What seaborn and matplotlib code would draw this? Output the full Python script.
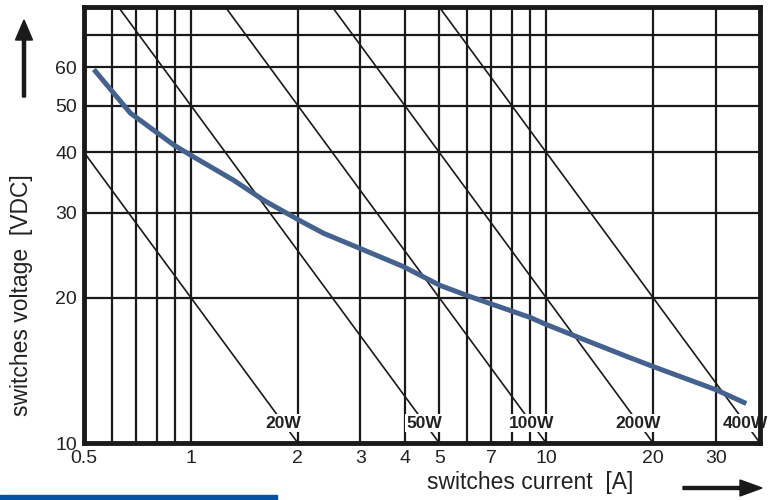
import numpy as np
import matplotlib
matplotlib.use("Agg")
import matplotlib.pyplot as plt
import seaborn as sns
import pandas as pd

sns.set_style("white")
plt.rcParams["font.family"] = ["Liberation Sans", "DejaVu Sans"]

# ---- data ----
current_a = [0.533, 0.676, 0.896, 1.02, 1.32, 1.606, 2.04, 2.36, 2.99,
             3.96, 5.03, 6.11, 9.01, 10.0, 12.2, 16.9, 20.0, 30.0, 36.6]
voltage_v = [59.4, 48.2, 41.4, 39.1, 35.0, 31.8, 28.8, 27.2, 25.3,
             23.2, 21.2, 20.1, 18.2, 17.6, 16.6, 15.1, 14.4, 12.9, 12.07]

power_lines_w = [20, 50, 100, 200, 400]
power_labels = ["20W", "50W", "100W", "200W", "400W"]

x_grid = [0.6, 0.7, 0.8, 0.9, 1, 2, 3, 4, 5, 6, 7, 8, 9, 10, 20, 30]
y_grid = [20, 30, 40, 50, 60, 70]
x_ticks = [0.5, 1, 2, 3, 4, 5, 7, 10, 20, 30]
x_tick_labels = ["0.5", "1", "2", "3", "4", "5", "7", "10", "20", "30"]
y_ticks = [10, 20, 30, 40, 50, 60]
y_tick_labels = ["10", "20", "30", "40", "50", "60"]

x_lim = (0.5, 40)
y_lim = (10, 80)

# ---- figure ----
fig = plt.figure(figsize=(7.72, 5.00), dpi=100)
ax = fig.add_axes([0.1088, 0.114, 0.8757, 0.872])
ax.set_xscale("log")
ax.set_yscale("log")
ax.set_xlim(*x_lim)
ax.set_ylim(*y_lim)

# grid
for xv in x_grid:
    ax.axvline(xv, color="#1a1a1a", lw=1.6, zorder=1)
for yv in y_grid:
    ax.axhline(yv, color="#1a1a1a", lw=1.6, zorder=1)

# constant power lines V = P / I
i_vals = np.array([0.3, 60])
for p in power_lines_w:
    ax.plot(i_vals, p / i_vals, color="#1a1a1a", lw=1.2, zorder=2)

# characteristic curve
df = pd.DataFrame({"I": current_a, "V": voltage_v})
sns.lineplot(data=df, x="I", y="V", ax=ax, color="#45628f", lw=3.6,
             solid_capstyle="butt", zorder=4, sort=False)

# power labels
lab_v = 11.0
for p, lab in zip(power_lines_w, power_labels):
    ax.text(p / lab_v, lab_v, lab, ha="center", va="center",
            fontsize=12.5, fontweight="bold", color="#222222", zorder=5,
            bbox=dict(facecolor="white", edgecolor="none", pad=1.0))

ax.set_xticks(x_ticks)
ax.set_xticklabels(x_tick_labels)
ax.set_yticks(y_ticks)
ax.set_yticklabels(y_tick_labels)
ax.minorticks_off()
ax.tick_params(length=0, labelsize=14, colors="#222222", pad=5)
ax.set_xlabel("")
ax.set_ylabel("")

for s in ax.spines.values():
    s.set_visible(True)
    s.set_color("#1a1a1a")
    s.set_linewidth(3.5)
    s.set_zorder(6)

# axis titles
fig.text(530 / 772, 1 - 482 / 500, "switches current  [A]", ha="center",
         va="center", fontsize=16.5, color="#222222")
fig.text(22 / 772, 1 - 295 / 500, "switches voltage  [VDC]", ha="center",
         va="center", rotation=90, fontsize=16.5, color="#222222")

# arrows
fig.patches.append(matplotlib.patches.FancyArrow(
    24 / 772, 1 - 97 / 500, 0, (97 - 20) / 500, width=0.004,
    head_width=17 / 772, head_length=20 / 500, length_includes_head=True,
    transform=fig.transFigure, color="#1a1a1a", figure=fig))
fig.patches.append(matplotlib.patches.FancyArrow(
    683 / 772, 1 - 488 / 500, (762 - 683) / 772, 0, width=0.006,
    head_width=16 / 500, head_length=22 / 772, length_includes_head=True,
    transform=fig.transFigure, color="#1a1a1a", figure=fig))

# blue strip at bottom left
fig.patches.append(matplotlib.patches.Rectangle(
    (0, 0), 277 / 772, 5 / 500, transform=fig.transFigure,
    color="#0453a2", figure=fig))

fig.savefig("out.png", dpi=100)
